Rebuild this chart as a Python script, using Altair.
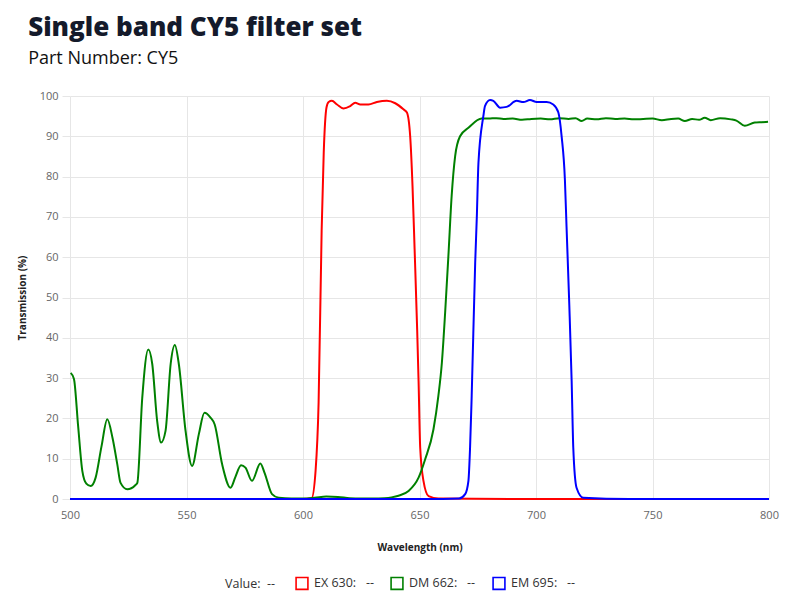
import altair as alt
import pandas as pd

# EX 630 (red)
ex_wl = [500, 560, 600, 603.7, 605.4, 606.7, 608.0, 608.9, 610.1, 611.0, 612.4, 614.6, 617.4, 620.3, 622.4,
         624.6, 628.1, 631.7, 636.0, 639.6, 643.1, 644.6, 646.0, 647.0, 647.9, 649.0, 649.6, 650.3, 651.7,
         653.9, 658.1, 700, 800]
ex_val = [0, 0, 0, 0.2, 7, 24, 66.5, 86, 97.2, 98.5, 98.8, 97.9, 96.9, 97.5, 98.3,
          97.9, 97.9, 98.5, 98.8, 98.2, 96.7, 95.9, 90, 77.7, 62, 42, 29.3, 12.7, 4.5,
          0.7, 0.1, 0, 0]

# DM 662 (green)
dm_wl = [500.3, 501.7, 503.5, 505.3, 507.0, 508.9, 511.0, 513.5, 516.0, 518.3, 520.3, 521.7, 524.6, 528.0,
         528.9, 531.0, 533.6, 535.3, 537.4, 539.1, 541.0, 543.2, 545.0, 546.7, 549.6, 552.4, 555.3,
         557.7, 560.3, 562.1, 565.3, 568.9, 571.0, 573.4, 575.3, 578.1, 581.7, 583.5, 586.7, 589.6,
         595, 600, 605, 610, 615, 620, 625, 630, 635, 638, 641, 645.3, 649.6, 652.4, 656.0, 658.1,
         659.6, 661.0, 662.4, 663.8, 665.3, 667.4, 671.0, 676.7, 679.6, 683, 686, 690, 694, 698, 702, 706,
         710, 714, 717, 719.6, 722, 726, 730, 734, 738, 742, 746, 750, 754, 758, 761, 763.9, 767,
         770, 772.4, 775, 779, 783.7, 786, 789.6, 793.9, 797, 799.6]
dm_val = [31.3, 29.8, 18, 6.9, 3.8, 3.2, 5.3, 13, 19.8, 15, 8.6, 4.0, 2.4, 3.4,
          4.0, 25, 37.1, 33.5, 19.4, 14.0, 16.9, 33.5, 38.2, 33.5, 16.9, 8.2, 16.1,
          21.4, 20.2, 18.5, 8.6, 2.8, 5.5, 8.4, 7.8, 4.5, 8.8, 6.5, 1.2, 0.3,
          0.1, 0.1, 0.3, 0.6, 0.5, 0.2, 0.1, 0.1, 0.2, 0.4, 0.8, 2.0, 5.3, 9.8, 17.3, 25.6,
          33.8, 46.2, 60.3, 75.2, 85.1, 90.0, 92.1, 94.4, 94.4, 94.5, 94.3, 94.4, 94.1, 94.3, 94.4, 94.2,
          94.5, 94.3, 94.5, 93.8, 94.4, 94.2, 94.5, 94.3, 94.4, 94.2, 94.3, 94.4, 94.0, 94.3, 94.4, 93.8, 94.3,
          94.1, 94.6, 94.0, 94.5, 94.2, 93.9, 92.6, 93.4, 93.5, 93.6]

# EM 695 (blue)
em_wl = [500, 600, 660, 667.0, 669.6, 671.0, 671.7, 672.4, 673.9, 674.6, 675.3, 677.4, 678.1, 680.3, 681.7,
         684.6, 687.4, 691.7, 694.6, 697.4, 700.3, 704.6, 707.4, 709.6, 711.0, 712.4, 713.1, 714.3,
         715.3, 716.0, 717.4, 720.3, 740, 800]
em_val = [0, 0, 0, 0.1, 1.2, 4.5, 12.7, 25.6, 58.6, 70, 83.4, 95.0, 97.5, 99.0, 98.8,
          97.1, 97.3, 98.8, 98.5, 99.0, 98.5, 98.5, 97.9, 95.9, 90, 79.3, 67.7, 48,
          29.3, 12.7, 2.8, 0.3, 0, 0]

series_names = ["EX 630", "DM 662", "EM 695"]
series_colors = ["#ff0000", "#008000", "#0000ff"]

frames = []
for name, wl, val in zip(series_names, [ex_wl, dm_wl, em_wl], [ex_val, dm_val, em_val]):
    frames.append(pd.DataFrame({"wl": wl, "val": val, "series": name}))

font = "Open Sans"

color = alt.Color(
    "series:N",
    scale=alt.Scale(domain=series_names, range=series_colors),
    legend=alt.Legend(
        title="Value:\u00a0\u00a0--",
        titleOrient="left",
        orient="none",
        legendX=155,
        legendY=480,
        direction="horizontal",
        symbolType="square",
        symbolFillColor="transparent",
        symbolStrokeWidth=1.6,
        symbolSize=140,
        labelExpr="datum.label + ':\u00a0\u00a0\u00a0--'",
        labelFont=font,
        labelFontSize=12.5,
        labelColor="#333333",
        titleFont=font,
        titleFontSize=12.5,
        titleFontWeight="normal",
        titleColor="#333333",
        titlePadding=19,
        columnPadding=13,
        labelOffset=5,
    ),
)

x = alt.X(
    "wl:Q",
    title="Wavelength (nm)",
    scale=alt.Scale(domain=[500, 800], nice=False, zero=False),
    axis=alt.Axis(values=[500, 550, 600, 650, 700, 750, 800], ticks=False, domain=False,
                  labelFlush=False, labelPadding=10, titlePadding=22, gridColor="#e6e6e6"),
)
y = alt.Y(
    "val:Q",
    title="Transmission (%)",
    scale=alt.Scale(domain=[0, 100], nice=False),
    axis=alt.Axis(values=list(range(0, 101, 10)), domain=False, tickSize=8, tickColor="#e6e6e6",
                  labelPadding=4, titlePadding=12, gridColor="#e6e6e6"),
)

layers = [
    alt.Chart(df).mark_line(strokeWidth=2, interpolate="monotone").encode(x=x, y=y, color=color)
    for df in frames
]

chart = alt.layer(*layers).properties(
    width=699,
    height=403,
    padding={"left": 9, "top": 7, "right": 10, "bottom": 5},
    title=alt.TitleParams(
        text="Single band CY5 filter set",
        subtitle="Part Number: CY5",
        anchor="start",
        frame="bounds",
        dx=11,
        font=font,
        fontSize=26,
        fontWeight=800,
        color="#141a2b",
        subtitleFont=font,
        subtitleFontSize=18,
        subtitleFontWeight=500,
        subtitleColor="#111111",
        subtitlePadding=9,
        offset=22,
    ),
).configure_view(stroke=None).configure_axis(
    labelFont=font, labelFontSize=11, labelColor="#666666",
    titleFont=font, titleFontSize=10, titleFontWeight="bold", titleColor="#222222",
)

chart.save("out.html", embed_options={"renderer": "svg", "actions": False})
